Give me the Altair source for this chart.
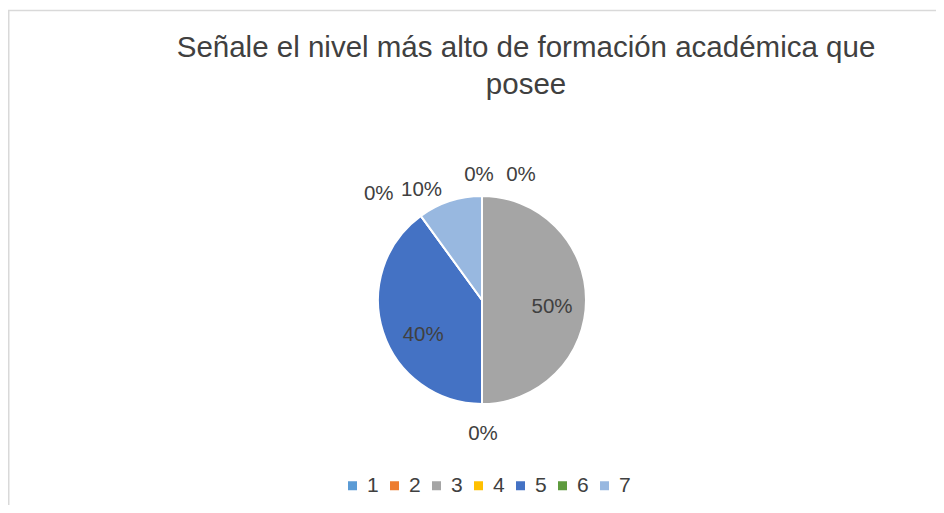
import altair as alt
import pandas as pd

# ---- data ----
categories = ["1", "2", "3", "4", "5", "6", "7"]
values = [0, 0, 50, 0, 40, 0, 10]
labels = ["0%", "0%", "50%", "0%", "40%", "0%", "10%"]
colors = ["#5B9BD5", "#ED7D31", "#A5A5A5", "#FFC000", "#4472C4", "#5E9B3E", "#98B8E0"]
title_lines = ["Señale el nivel más alto de formación académica que", "posee"]

df = pd.DataFrame({"cat": categories, "value": values, "label": labels})

# ---- layout ----
W, H = 928, 497
CX, CY, R = 474, 292, 104
TXT = "#404040"
FONT = "Liberation Sans"
LBL = 20.5
theta_scale = alt.Scale(domain=[0, 100])

base = alt.Chart(df)

arcs = base.mark_arc(radius=R, stroke="white", strokeWidth=2).encode(
    x=alt.value(CX),
    y=alt.value(CY),
    theta=alt.Theta("value:Q", stack=True, scale=theta_scale),
    color=alt.Color(
        "cat:N",
        scale=alt.Scale(domain=categories, range=colors),
        legend=alt.Legend(
            title=None, orient="none", legendX=334, legendY=467,
            direction="horizontal", symbolType="square", symbolSize=81,
            symbolStrokeWidth=0, symbolOpacity=1, labelFontSize=21,
            labelFont=FONT, labelColor=TXT, labelOffset=4,
            columnPadding=5, padding=0,
        ),
    ),
    order=alt.Order("cat:N", sort="ascending"),
)

txt_base = base.transform_window(
    cum="sum(value)", sort=[alt.SortField("cat")]
).transform_calculate(mid="datum.cum - datum.value / 2")


def data_label(cat, r, dx=0, dy=0):
    return txt_base.transform_filter(alt.datum.cat == cat).mark_text(
        radius=r, dx=dx, dy=dy, fontSize=LBL, font=FONT, color=TXT,
        align="center", baseline="middle",
    ).encode(
        x=alt.value(CX),
        y=alt.value(CY),
        theta=alt.Theta("mid:Q", stack=False, scale=theta_scale),
        text="label:N",
    )


label_layers = [
    data_label("1", 125, dx=-3),
    data_label("2", 125, dx=39),
    data_label("3", 70, dy=7),
    data_label("4", 134, dx=1),
    data_label("5", 65, dx=3, dy=15),
    data_label("6", 140, dx=-21, dy=7),
    data_label("7", 118, dx=-24, dy=2),
]

one = alt.Data(values=[{}])
title1 = alt.Chart(one).mark_text(
    text=title_lines[0], fontSize=29.5, font=FONT, color=TXT,
    align="center", baseline="alphabetic",
).encode(x=alt.value(518), y=alt.value(49))
title2 = alt.Chart(one).mark_text(
    text=title_lines[1], fontSize=29.5, font=FONT, color=TXT,
    align="center", baseline="alphabetic",
).encode(x=alt.value(518), y=alt.value(86))

border_top = alt.Chart(one).mark_rule(color="#D9D9D9", strokeWidth=1.5).encode(
    x=alt.value(0), x2=alt.value(W), y=alt.value(2.5)
)
border_left = alt.Chart(one).mark_rule(color="#D9D9D9", strokeWidth=1.5).encode(
    x=alt.value(0.75), y=alt.value(2.5), y2=alt.value(H)
)

chart = alt.layer(
    border_top, border_left, arcs, *label_layers, title1, title2
).properties(
    width=W, height=H, autosize=alt.AutoSizeParams(type="none"), padding=0
).configure_view(stroke=None)

chart.save("out.html", embed_options={"renderer": "svg", "actions": False})
